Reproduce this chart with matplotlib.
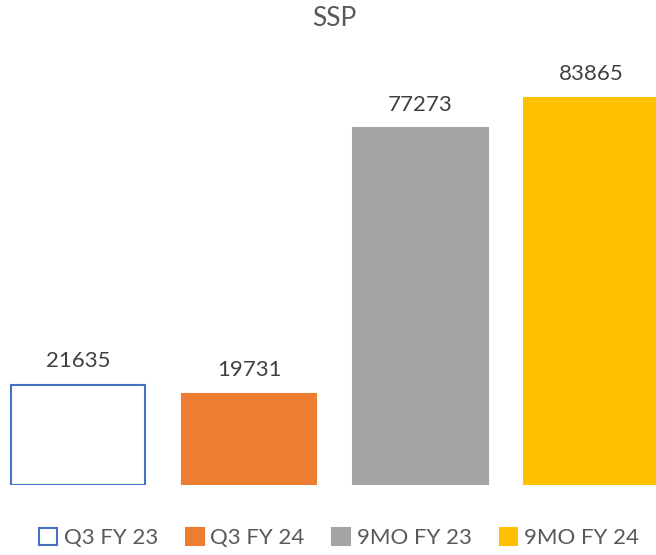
import matplotlib.pyplot as plt
from matplotlib.patches import Patch

# data
categories = ['Q3 FY 23', 'Q3 FY 24', '9MO FY 23', '9MO FY 24']
values = [21635, 19731, 77273, 83865]
face_colors = ['white', '#ED7D31', '#A5A5A5', '#FFC000']
edge_colors = ['#4472C4', '#ED7D31', '#A5A5A5', '#FFC000']

plt.rcParams['font.family'] = ['Lato', 'DejaVu Sans']

fig = plt.figure(figsize=(6.56, 5.55), dpi=100)
ax = fig.add_axes([0, 70 / 555, 1, 425 / 555])

x = list(range(len(categories)))
bars = ax.bar(x, values, width=0.785, color=face_colors, edgecolor=edge_colors, linewidth=1.5)
for xi, v in zip(x, values):
    ax.text(xi, v + 3000, str(v), ha='center', va='bottom', fontsize=16, color='#404040')

ax.set_xlim(-78 / 171.2, (656 - 78) / 171.2)
ax.set_ylim(0, 92090)
ax.axis('off')

fig.text(0.509, 1 - 18 / 555, 'SSP', ha='center', va='center', fontsize=19, color='#595959')

handles = [Patch(facecolor=fc, edgecolor=ec, linewidth=1.5) for fc, ec in zip(face_colors, edge_colors)]
fig.legend(handles, categories, loc='center', bbox_to_anchor=(0.517, 1 - 538 / 555), ncol=4,
           frameon=False, fontsize=16, handlelength=0.8, handleheight=0.8, handletextpad=0.3,
           columnspacing=1.25, labelcolor='#595959')

fig.savefig('out.png', dpi=100)
